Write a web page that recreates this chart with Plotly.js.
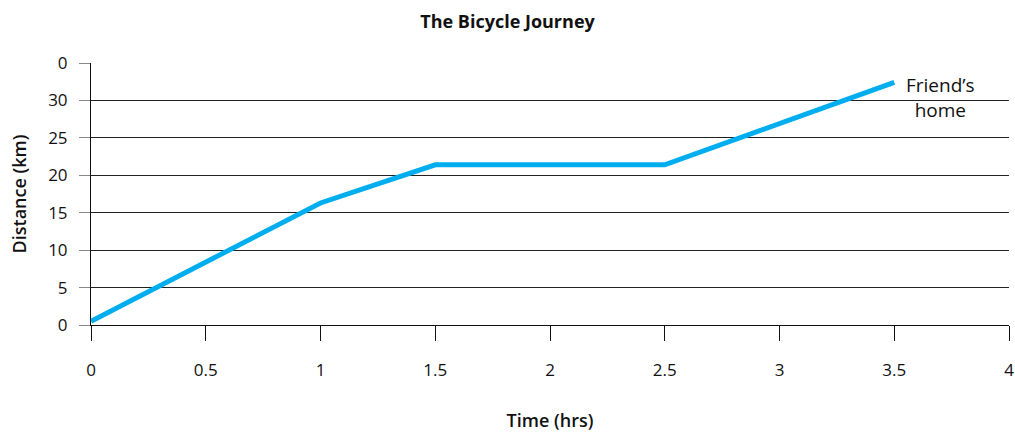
<!DOCTYPE html>
<html>
<head>
<meta charset="utf-8">
<script src="https://cdn.plot.ly/plotly-3.0.1.min.js"></script>
<style>html,body{margin:0;padding:0;background:#fff;}#chart{width:1015px;height:432px;}</style>
</head>
<body>
<div id="chart"></div>
<script>
const timeHrs = [0, 1, 1.5, 2.5, 3.5];
const distanceKm = [0.5, 16.3, 21.4, 21.4, 32.4];
const xTickVals = [0, 0.5, 1, 1.5, 2, 2.5, 3, 3.5, 4];
const xTickText = ["0", "0.5", "1", "1.5", "2", "2.5", "3", "3.5", "4"];
const yTickVals = [0, 5, 10, 15, 20, 25, 30, 35];
const yTickText = ["0", "5", "10", "15", "20", "25", "30", "0"];
const labelText = "Friend’s<br>home";
const labelPos = {x: 3.70, y: 30.4};

const font = "Open Sans, Noto Sans, sans-serif";
const data = [{
  x: timeHrs, y: distanceKm, type: 'scatter', mode: 'lines',
  line: {color: '#00AEEF', width: 5}, hoverinfo: 'skip'
}];
const layout = {
  width: 1015, height: 432,
  margin: {l: 91, r: 6, t: 63, b: 107},
  paper_bgcolor: '#fff', plot_bgcolor: '#fff',
  showlegend: false,
  font: {family: font, color: '#111', size: 17},
  title: {text: 'The Bicycle Journey', x: 0.5, xanchor: 'center', y: 0.95, yanchor: 'middle', font: {size: 18, weight: 700, family: font, color: '#111'}},
  xaxis: {
    range: [0, 4], tickvals: xTickVals, ticktext: xTickText,
    showgrid: false, zeroline: false, showline: true, linecolor: '#111', linewidth: 1,
    ticks: 'outside', ticklen: 15, tickcolor: '#111', tickwidth: 1,
    ticklabelstandoff: 15, tickfont: {size: 17, family: font, color: '#111'},
    title: {text: 'Time (hrs)', font: {size: 18, weight: 600, family: font, color: '#111'}, standoff: 33}
  },
  yaxis: {
    range: [0, 35], tickvals: yTickVals, ticktext: yTickText,
    showgrid: true, gridcolor: '#222', gridwidth: 1, zeroline: false,
    showline: true, linecolor: '#111', linewidth: 1,
    ticks: 'outside', ticklen: 11, tickcolor: '#888', tickwidth: 1,
    ticklabelstandoff: 8, tickfont: {size: 17, family: font, color: '#111'},
    title: {text: 'Distance (km)', font: {size: 18, weight: 600, family: font, color: '#111'}, standoff: 16}
  },
  annotations: [{
    x: labelPos.x, y: labelPos.y, xref: 'x', yref: 'y', text: labelText,
    showarrow: false, align: 'center', font: {size: 19, family: font, color: '#111'}
  }]
};
Plotly.newPlot('chart', data, layout, {displayModeBar: false, staticPlot: true});
</script>
</body>
</html>
